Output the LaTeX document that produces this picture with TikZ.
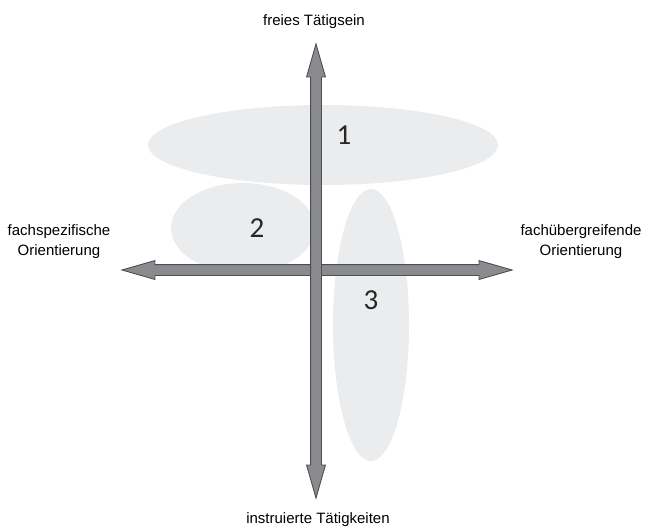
\documentclass[tikz,border=0pt]{standalone}
\usepackage{fontspec}
\setmainfont{Liberation Sans}
\newfontfamily\numfont{Carlito}
\usetikzlibrary{shapes.arrows}
\definecolor{axisfill}{HTML}{8A8B8E}
\definecolor{axisline}{HTML}{4E4E50}
\definecolor{blob}{HTML}{EBECED}
\tikzset{
  axisarrow/.style={shape=double arrow, draw=axisline, fill=axisfill, line width=0.9pt,
    inner sep=5pt, double arrow head extend=4pt, double arrow tip angle=32},
  blobshape/.style={fill=blob, draw=none},
  axislabel/.style={font=\fontsize{15}{20}\selectfont, align=center, anchor=base, inner sep=0pt},
  numlabel/.style={font=\numfont\fontsize{29}{30}\selectfont, text=black!85, inner sep=0pt}
}
\begin{document}
\begin{tikzpicture}[x=1pt,y=-1pt]
\useasboundingbox (0,0) rectangle (646,530);
% shaded regions
\fill[blobshape] (323,145) ellipse [x radius=175, y radius=40];
\fill[blobshape] (243,228) ellipse [x radius=72, y radius=45];
\fill[blobshape] (371,325) ellipse [x radius=38, y radius=136];
% axes
\node[axisarrow, minimum height=390pt] (hax) at (317,270) {};
\node[axisarrow, minimum height=454pt, rotate=90] (vax) at (316,271) {};
% region numbers
\node[numlabel] (n1) at (344,135) {1};
\node[numlabel] (n2) at (257,228) {2};
\node[numlabel] (n3) at (371,300) {3};
% axis labels
\node[axislabel] (top) at (314,25) {freies Tätigsein};
\node[axislabel] (bottom) at (318,523) {instruierte Tätigkeiten};
\node[axislabel] (left) at (59,255) {fachspezifische\\Orientierung};
\node[axislabel] (right) at (581,255) {fachübergreifende\\Orientierung};
\end{tikzpicture}
\end{document}
